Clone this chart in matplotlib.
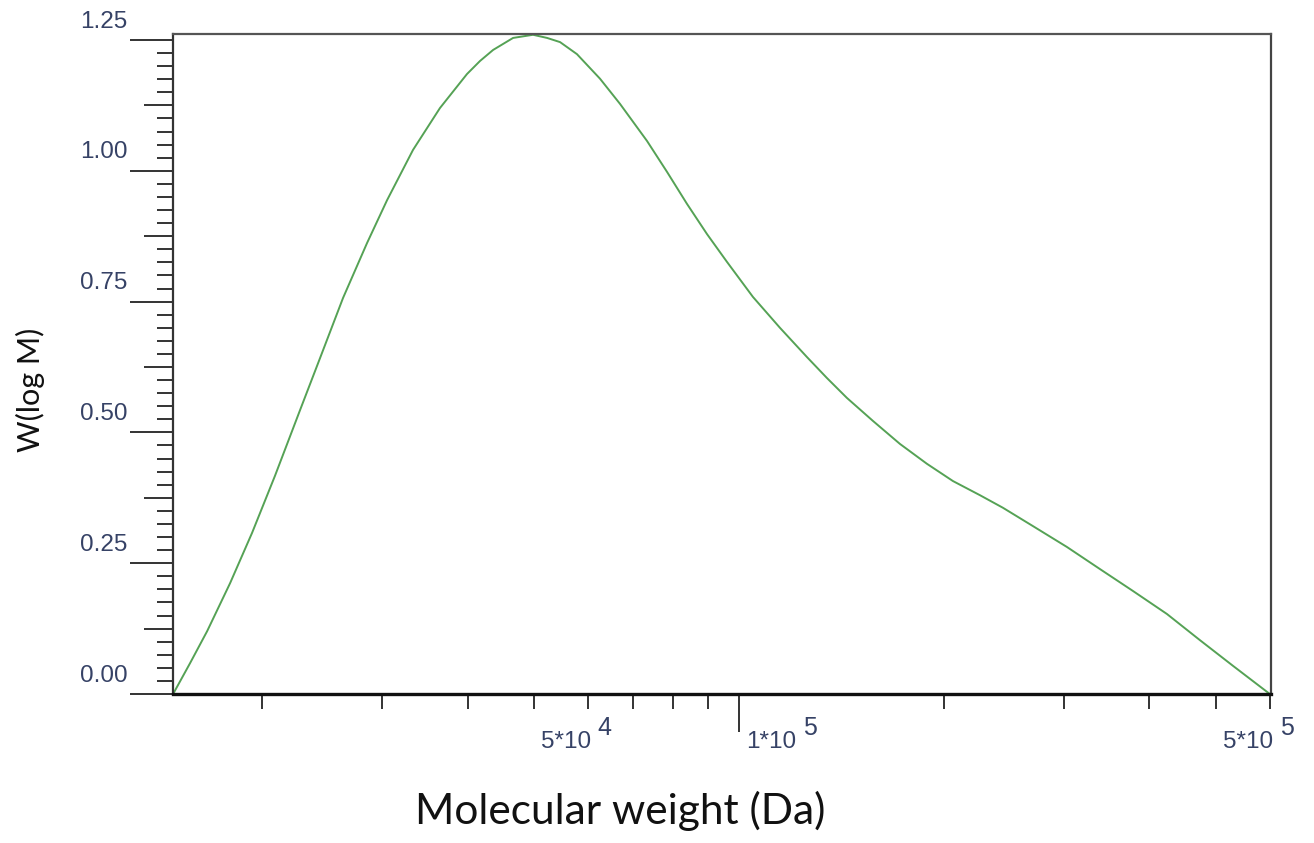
import numpy as np
import matplotlib.pyplot as plt
import matplotlib.transforms as mtransforms
from matplotlib.ticker import FixedLocator, NullFormatter


# =========================
# Data
# =========================

mol_weight = [
    14795, 15668, 16596, 17937, 19317, 20870, 22720, 24300, 26264, 28482,
    30476, 33266, 36433, 39916, 41715, 43593, 46639, 49889, 52310, 54658,
    57866, 62554, 66914, 73317, 78433, 83887, 89782, 96028, 104829, 114840,
    125820, 134590, 143970, 157210, 172230, 188670, 206010, 225650, 243830,
    269820, 302720, 338230, 378240, 424250, 474250, 530150, 600600,
]

w_log_m = [
    0.000, 0.059, 0.120, 0.212, 0.308, 0.417, 0.543, 0.642, 0.757, 0.862,
    0.944, 1.040, 1.120, 1.185, 1.210, 1.231, 1.254, 1.260, 1.254, 1.246,
    1.223, 1.176, 1.128, 1.057, 0.998, 0.937, 0.879, 0.826, 0.759, 0.700,
    0.644, 0.604, 0.566, 0.522, 0.478, 0.440, 0.407, 0.380, 0.356, 0.321,
    0.281, 0.239, 0.197, 0.153, 0.103, 0.054, 0.000,
]

x_major_ticks = [1e5]
x_minor_ticks = [2e4, 3e4, 4e4, 5e4, 6e4, 7e4, 8e4, 9e4,
                 2e5, 3e5, 4e5, 5e5, 6e5]
x_label_ticks = [5e4, 1e5, 5e5]
x_label_base = ["5*10", "1*10", "5*10"]
x_label_exp = ["4", "5", "5"]

y_major_ticks = [0.0, 0.25, 0.5, 0.75, 1.0, 1.25]
y_tick_labels = ["0.00", "0.25", "0.50", "0.75", "1.00", "1.25"]
y_mid_ticks = [0.125, 0.375, 0.625, 0.875, 1.125]
y_minor_ticks = [round(v, 3) for v in np.arange(0.025, 1.25, 0.025)
                 if round(v, 3) not in y_major_ticks + y_mid_ticks]


# =========================
# Figure
# =========================

W, H = 1314, 843
fig = plt.figure(figsize=(W / 100, H / 100), dpi=100)
ax = fig.add_axes([173 / W, 1 - 694 / H, (1271 - 173) / W, (694 - 34) / H])

ax.plot(mol_weight, w_log_m, color="#55a255", lw=1.4)

ax.set_xscale("log")
ax.set_xlim(14790, 603000)
ax.set_ylim(0, 1.2615)

for side, lw, col in [("left", 1.6, "#333333"), ("bottom", 2.4, "#111111"),
                      ("top", 1.6, "#555555"), ("right", 1.6, "#444444")]:
    ax.spines[side].set_linewidth(lw)
    ax.spines[side].set_color(col)

tick_color = "#364266"

# x ticks
ax.xaxis.set_major_locator(FixedLocator(x_major_ticks))
ax.xaxis.set_minor_locator(FixedLocator(x_minor_ticks))
ax.xaxis.set_major_formatter(NullFormatter())
ax.xaxis.set_minor_formatter(NullFormatter())
ax.tick_params(axis="x", which="major", direction="out", length=27.4,
               width=1.4, color="#333333")
ax.tick_params(axis="x", which="minor", direction="out", length=10.8,
               width=1.4, color="#333333")

for pos, base, exp in zip(x_label_ticks, x_label_base, x_label_exp):
    ax.annotate(base, xy=(pos, 0), xycoords=("data", "axes fraction"),
                xytext=(7, -54), textcoords="offset pixels",
                ha="left", va="baseline", fontsize=17.5,
                family="Liberation Sans", color=tick_color)
    ax.annotate(exp, xy=(pos, 0), xycoords=("data", "axes fraction"),
                xytext=(64, -41), textcoords="offset pixels",
                ha="left", va="baseline", fontsize=18,
                family="Liberation Sans", color=tick_color)

# y ticks
ax.yaxis.set_major_locator(FixedLocator(y_major_ticks))
ax.yaxis.set_minor_locator(FixedLocator(y_minor_ticks))
ax.set_yticklabels(y_tick_labels, fontsize=17.5, family="Liberation Sans",
                   color=tick_color)
ax.tick_params(axis="y", which="major", direction="out", length=31,
               width=1.4, color="#333333", pad=1.5)
ax.tick_params(axis="y", which="minor", direction="out", length=11.5,
               width=1.4, color="#333333")

shift = mtransforms.ScaledTranslation(0, 0.21, fig.dpi_scale_trans)
for lbl in ax.get_yticklabels():
    lbl.set_transform(lbl.get_transform() + shift)

sec = ax.secondary_yaxis("left")
sec.set_yticks(y_mid_ticks)
sec.set_yticklabels([])
sec.tick_params(direction="out", length=21, width=1.4, color="#333333")
sec.spines["left"].set_visible(False)

# axis titles
fig.text(30 / W, 1 - 390 / H, "W(log M)", rotation=90, ha="center",
         va="center", fontsize=22, family="Lato", color="#111111")
fig.text(620 / W, 1 - 811 / H, "Molecular weight (Da)", ha="center",
         va="center", fontsize=30.5, family="Lato", color="#111111")

fig.savefig("out.png", dpi=100)
